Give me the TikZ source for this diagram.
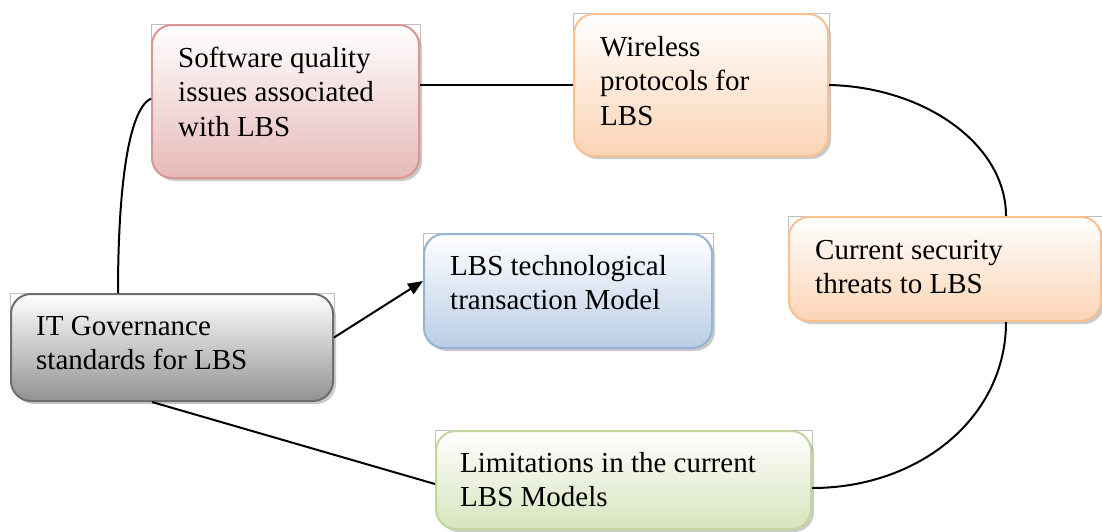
\documentclass[tikz,border=0pt]{standalone}
\usepackage{fontspec}
\setmainfont{Liberation Serif}
\usetikzlibrary{shadows,calc,arrows.meta,backgrounds}

\definecolor{pinkB}{HTML}{D99694}
\definecolor{pinkF}{HTML}{E6B9B8}
\definecolor{orangeB}{HTML}{FAC090}
\definecolor{orangeF}{HTML}{FBD4B4}
\definecolor{grayB}{HTML}{6E6E6E}
\definecolor{grayF}{HTML}{929292}
\definecolor{blueB}{HTML}{95B3D7}
\definecolor{blueF}{HTML}{B9CDE5}
\definecolor{greenB}{HTML}{C3D69B}
\definecolor{greenF}{HTML}{D7E4BD}

\tikzset{
  boxbase/.style={draw, line width=2pt, rounded corners=20pt, inner sep=0pt,
    anchor=north west, top color=white,
    drop shadow={shadow xshift=3pt, shadow yshift=-3pt, fill=black!35, opacity=0.6}},
  pinkbox/.style={boxbase, draw=pinkB, bottom color=pinkF},
  orangebox/.style={boxbase, draw=orangeB, bottom color=orangeF},
  graybox/.style={boxbase, draw=grayB, bottom color=grayF},
  bluebox/.style={boxbase, draw=blueB, bottom color=blueF},
  greenbox/.style={boxbase, draw=greenB, bottom color=greenF},
  frame/.style={draw=black!25, line width=0.6pt},
  txt/.style={anchor=north west, align=left, inner sep=0pt,
    font=\fontsize{29}{34.5}\selectfont},
  conn/.style={draw=black, line width=2pt},
}

\begin{document}
\begin{tikzpicture}[x=1pt, y=-1pt]
\useasboundingbox (0,0) rectangle (1102,531);

% boxes
\node[pinkbox,   minimum width=267pt, minimum height=153pt] (sw)   at (151,24)  {};
\node[orangebox, minimum width=254pt, minimum height=142pt] (wl)   at (573,13)  {};
\node[graybox,   minimum width=322pt, minimum height=107pt] (itg)  at (10,293)  {};
\node[bluebox,   minimum width=288pt, minimum height=114pt] (tech) at (423,233) {};
\node[orangebox, minimum width=312pt, minimum height=104pt] (cs)   at (788,216) {};
\node[greenbox,  minimum width=375pt, minimum height=98pt]  (lim)  at (435,430) {};

% thin frames of the shapes, showing at the upper corners
\begin{scope}[on background layer]
  \foreach \b in {sw,wl,itg,tech,cs,lim}
    \draw[frame] ($(\b.north west)+(0,22)$) -- (\b.north west) -- (\b.north east) -- ($(\b.north east)+(0,22)$);
\end{scope}

% labels (first baseline 43pt below the top edge; strut height 24.15pt)
\node[txt] (swt)   at ($(sw.north west)+(27,19)$)   {\strut Software quality\\issues associated\\with LBS};
\node[txt] (wlt)   at ($(wl.north west)+(27,19)$)   {\strut Wireless\\protocols for\\LBS};
\node[txt] (itgt)  at ($(itg.north west)+(26,18)$)  {\strut IT Governance\\standards for LBS};
\node[txt] (techt) at ($(tech.north west)+(27,18)$) {\strut LBS technological\\transaction Model};
\node[txt] (cst)   at ($(cs.north west)+(27,19)$)   {\strut Current security\\threats to LBS};
\node[txt] (limt)  at ($(lim.north west)+(25,18)$)  {\strut Limitations in the current\\LBS Models};

% connectors
\draw[conn] ($(itg.north west)+(108,0)$) .. controls +(0,-103) and +(-23,11) .. ($(sw.west)+(0,-3)$);
\draw[conn] (sw.east |- wl.west) -- (wl.west);
\draw[conn] (wl.east) .. controls +(95,2) and +(0,-72) .. ($(cs.north west)+(218,0)$);
\draw[conn] ($(cs.south west)+(218,0)$) .. controls +(0,95) and +(108,0) .. ($(lim.east)+(0,8)$);
\draw[conn] ($(itg.south west)+(142,0)$) -- ($(lim.west)+(0,4)$);
\draw[conn, -{Triangle[length=15pt,width=12pt]}] ($(itg.east)+(0,-10)$) -- ($(tech.west)+(0,-10)$);
\end{tikzpicture}
\end{document}
